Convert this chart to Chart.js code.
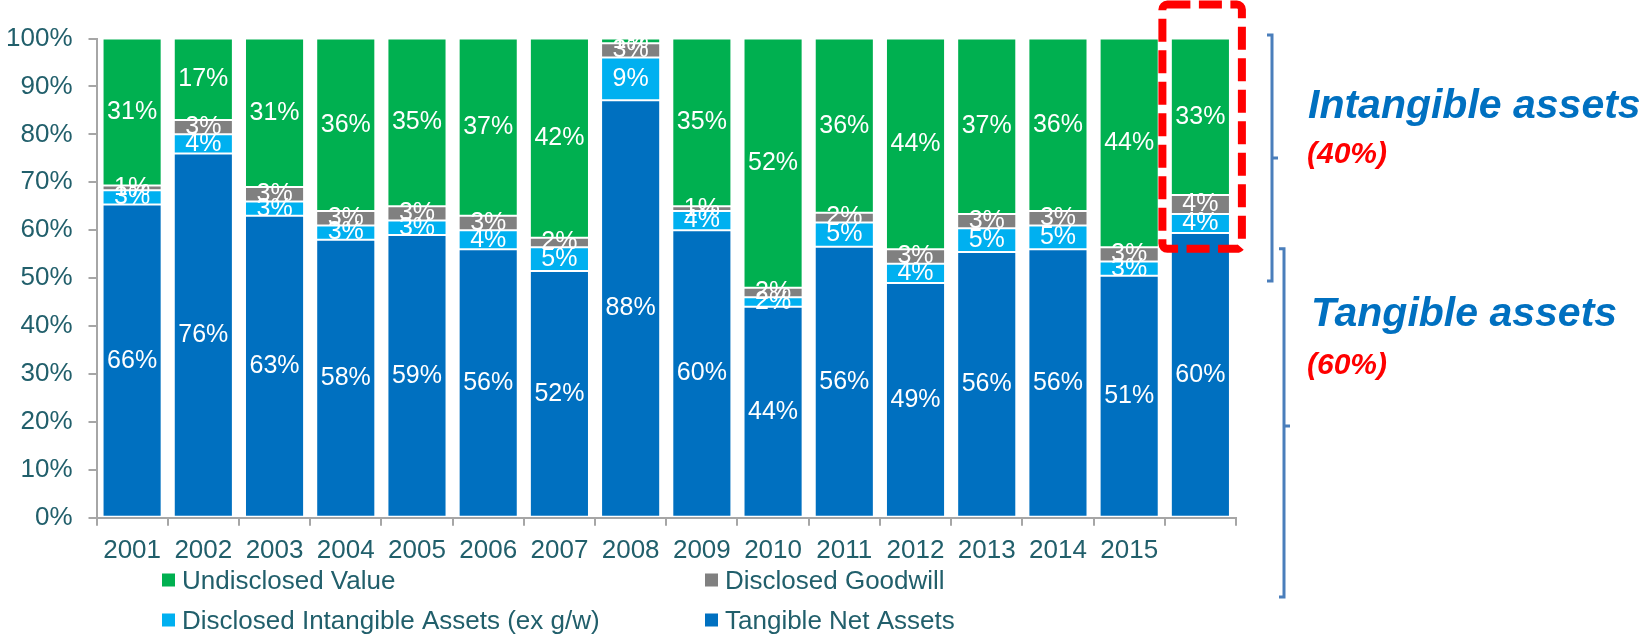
<!DOCTYPE html>
<html>
<head>
<meta charset="utf-8">
<script src="https://cdn.jsdelivr.net/npm/chart.js@4.4.0/dist/chart.umd.min.js"></script>
<style>
  html, body { margin: 0; padding: 0; background: #fff; }
  #marco { width: 1645px; height: 635px; position: relative; }
</style>
</head>
<body>
<div id="marco"><canvas id="grafica" width="1645" height="635"></canvas></div>
<script>
// datos (porcentajes de cada año)
const anios = ['2001','2002','2003','2004','2005','2006','2007','2008','2009','2010','2011','2012','2013','2014','2015',''];
const tangibleNeto = [66, 76, 63, 58, 59, 56, 52, 88, 60, 44, 56, 49, 56, 56, 51, 60];
const intangibleDeclarado = [3, 4, 3, 3, 3, 4, 5, 9, 4, 2, 5, 4, 5, 5, 3, 4];
const goodwillDeclarado = [1, 3, 3, 3, 3, 3, 2, 3, 1, 2, 2, 3, 3, 3, 3, 4];
const valorNoDeclarado = [31, 17, 31, 36, 35, 37, 42, 1, 35, 52, 36, 44, 37, 36, 44, 33];
const ticksY = [0, 10, 20, 30, 40, 50, 60, 70, 80, 90, 100];

const textoEje = '#215f6b';
const gris = '#a6a6a6';
const fuente = "'Liberation Sans', Arial, sans-serif";

// orden de apilado: de abajo hacia arriba
const series = [
  { label: 'Tangible Net Assets', valores: tangibleNeto, color: '#0070C0' },
  { label: 'Disclosed Intangible Assets (ex g/w)', valores: intangibleDeclarado, color: '#00B0F0' },
  { label: 'Disclosed Goodwill', valores: goodwillDeclarado, color: '#808080' },
  { label: 'Undisclosed Value', valores: valorNoDeclarado, color: '#00B050' }
];
// 100% apilado: cada columna se normaliza a su total
const totales = anios.map((_, i) => series.reduce((s, d) => s + d.valores[i], 0));

// etiquetas dentro de cada segmento
const etiquetas = {
  id: 'etiquetas',
  afterDatasetsDraw(chart) {
    const ctx = chart.ctx;
    ctx.save();
    ctx.fillStyle = '#ffffff';
    ctx.font = '25px ' + fuente;
    ctx.textAlign = 'center';
    ctx.textBaseline = 'middle';
    chart.data.datasets.forEach((ds, d) => {
      chart.getDatasetMeta(d).data.forEach((barra, i) => {
        const p = barra.getProps(['x', 'y', 'base'], true);
        ctx.fillText(ds.crudo[i] + '%', p.x, (p.y + p.base) / 2);
      });
    });
    ctx.restore();
  }
};

// leyenda en dos columnas, orden inverso al apilado
const leyenda = {
  id: 'leyenda',
  afterDraw(chart) {
    const ctx = chart.ctx;
    const orden = chart.data.datasets.slice().reverse();
    const colX = [162, 705];
    const filaY = [580, 620];
    ctx.save();
    ctx.font = '26px ' + fuente;
    ctx.textBaseline = 'alphabetic';
    ctx.textAlign = 'left';
    orden.forEach((ds, k) => {
      const x = colX[k % 2];
      const y = filaY[Math.floor(k / 2)];
      ctx.fillStyle = ds.backgroundColor;
      ctx.fillRect(x, y - 6.5, 13, 13);
      ctx.fillStyle = textoEje;
      ctx.fillText(ds.label, x + 20, y + 8.5);
    });
    ctx.restore();
  }
};

// recuadro rojo, llaves y textos de la derecha
const anotaciones = {
  id: 'anotaciones',
  afterDraw(chart) {
    const ctx = chart.ctx;
    const x = chart.scales.x;
    const y = chart.scales.y;
    const ultimo = x.getPixelForValue(anios.length - 1);
    ctx.save();

    // recuadro discontinuo sobre la ultima columna
    const izq = ultimo - 38, der = ultimo + 41.5, arr = 4.5, abj = y.getPixelForValue(56.1);
    ctx.strokeStyle = '#ff0000';
    ctx.lineWidth = 8;
    ctx.setLineDash([23, 8.5]);
    ctx.beginPath();
    ctx.roundRect(izq, arr, der - izq, abj - arr, 5);
    ctx.stroke();
    ctx.setLineDash([]);

    // llaves
    ctx.strokeStyle = '#4a7ebb';
    ctx.lineWidth = 3;
    const llave = (lx, y0, y1, ym) => {
      ctx.beginPath();
      ctx.moveTo(lx - 5, y0);
      ctx.lineTo(lx, y0);
      ctx.lineTo(lx, y1);
      ctx.lineTo(lx - 5, y1);
      ctx.moveTo(lx, ym);
      ctx.lineTo(lx + 6, ym);
      ctx.stroke();
    };
    llave(1272, y.getPixelForValue(100) - 3.5, y.getPixelForValue(49.4), 158);
    llave(1284, y.getPixelForValue(56.1), 597, 426);

    // textos
    ctx.textAlign = 'left';
    ctx.textBaseline = 'alphabetic';
    ctx.fillStyle = '#0070C0';
    ctx.font = 'italic bold 41px ' + fuente;
    ctx.fillText('Intangible assets', 1308, 118);
    ctx.fillText('Tangible assets', 1311, 326);
    ctx.fillStyle = '#ff0000';
    ctx.font = 'italic bold 30px ' + fuente;
    ctx.fillText('(40%)', 1307, 163);
    ctx.fillText('(60%)', 1307, 374);
    ctx.restore();
  }
};

const grafica = new Chart(document.getElementById('grafica'), {
  type: 'bar',
  data: {
    labels: anios,
    datasets: series.map(s => ({
      label: s.label,
      data: s.valores.map((v, i) => v / totales[i] * 100),
      crudo: s.valores,
      backgroundColor: s.color,
      borderColor: 'rgba(255,255,255,0.45)',
      borderWidth: 1,
      borderSkipped: false,
      categoryPercentage: 1,
      barPercentage: 0.83
    }))
  },
  options: {
    responsive: false,
    animation: false,
    events: [],
    layout: { padding: { left: 0, right: 409, top: 38.5, bottom: 57.3 } },
    plugins: {
      legend: { display: false },
      tooltip: { enabled: false }
    },
    scales: {
      x: {
        stacked: true,
        grid: { offset: true, drawOnChartArea: false, tickLength: 8, color: gris, lineWidth: 2 },
        border: { color: gris, width: 2 },
        ticks: { color: textoEje, font: { family: fuente, size: 26 }, padding: 10, maxRotation: 0, autoSkip: false },
        afterFit: s => { s.height = 60; }
      },
      y: {
        stacked: true,
        min: 0,
        max: 100,
        afterBuildTicks: s => { s.ticks = ticksY.map(v => ({ value: v })); },
        ticks: { color: textoEje, font: { family: fuente, size: 26 }, padding: 16, callback: v => v + '%' },
        grid: { drawOnChartArea: false, tickLength: 8, color: gris, lineWidth: 2 },
        border: { color: gris, width: 2 },
        afterFit: s => { s.width = 96.5; }
      }
    }
  },
  plugins: [etiquetas, leyenda, anotaciones]
});
</script>
</body>
</html>
